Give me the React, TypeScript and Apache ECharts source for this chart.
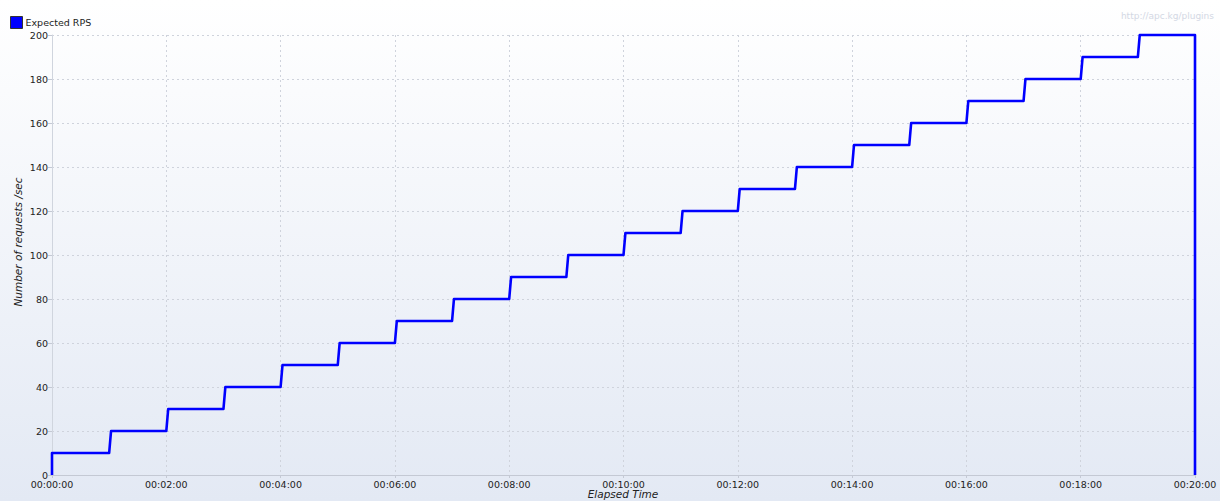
import React, { useEffect, useRef } from "react";
import * as echarts from "echarts";

// Step start times (seconds) and the expected RPS level reached at each step
const stepTimes = [0, 60, 120, 180, 240, 300, 360, 420, 480, 540, 600, 660, 720, 780, 840, 900, 960, 1020, 1080, 1140];
const stepLevels = [10, 20, 30, 40, 50, 60, 70, 80, 90, 100, 110, 120, 130, 140, 150, 160, 170, 180, 190, 200];
const endTime = 1200;
const rampSeconds = 2;
const xTickLabels = ["00:00:00", "00:02:00", "00:04:00", "00:06:00", "00:08:00", "00:10:00", "00:12:00", "00:14:00", "00:16:00", "00:18:00", "00:20:00"];
const seriesName = "Expected RPS";
const xAxisTitle = "Elapsed Time";
const yAxisTitle = "Number of requests /sec";

function buildPoints(): [number, number][] {
  const pts: [number, number][] = [[0, 0]];
  let prev = 0;
  stepTimes.forEach((t, i) => {
    const lvl = stepLevels[i];
    if (t === 0) {
      pts.push([0, lvl]);
    } else {
      pts.push([t, prev]);
      pts.push([t + rampSeconds, lvl]);
    }
    prev = lvl;
  });
  pts.push([endTime, prev]);
  pts.push([endTime, 0]);
  return pts;
}

export default function App() {
  const ref = useRef<HTMLDivElement>(null);
  useEffect(() => {
    if (!ref.current) return;
    const chart = echarts.init(ref.current, undefined, { renderer: "svg" });
    const font = "DejaVu Sans";
    chart.setOption({
      animation: false,
      backgroundColor: new echarts.graphic.LinearGradient(0, 0, 0, 1, [
        { offset: 0, color: "#ffffff" },
        { offset: 1, color: "#e3e9f4" },
      ]),
      textStyle: { fontFamily: font },
      legend: {
        left: 5,
        top: 11,
        itemWidth: 12,
        itemHeight: 12,
        itemGap: 4,
        icon: "rect",
        itemStyle: { color: "#0000ff", borderColor: "#333", borderWidth: 1 },
        textStyle: { fontSize: 9.5, color: "#222", fontFamily: font, padding: [0, 0, 0, -2] },
        data: [seriesName],
      },
      graphic: [
        {
          type: "text",
          right: 6,
          top: 11,
          style: { text: "http://apc.kg/plugins", fontSize: 9, fill: "#d3d8e4", fontFamily: font },
        },
        {
          type: "text",
          x: 18,
          y: 242,
          rotation: Math.PI / 2,
          style: {
            text: yAxisTitle,
            fontSize: 10.5,
            fontStyle: "italic",
            fill: "#222",
            fontFamily: font,
            align: "center",
            verticalAlign: "middle",
          },
        },
        {
          type: "text",
          x: 623,
          y: 494,
          style: {
            text: xAxisTitle,
            fontSize: 10.5,
            fontStyle: "italic",
            fill: "#222",
            fontFamily: font,
            align: "center",
            verticalAlign: "middle",
          },
        },
      ],
      grid: { left: 52, right: 25, top: 35, bottom: 26, containLabel: false, outerBoundsMode: "none" },
      xAxis: {
        type: "value",
        min: 0,
        max: endTime,
        interval: 120,
        axisLine: { show: true, lineStyle: { color: "#c4c9d4", width: 1 } },
        axisTick: { show: true, length: 3, lineStyle: { color: "#c4c9d4" } },
        axisLabel: {
          fontSize: 9.5,
          color: "#222",
          margin: 4,
          fontFamily: font,
          formatter: (v: number) => xTickLabels[Math.round(v / 120)] ?? "",
        },
        splitLine: { show: true, lineStyle: { color: "#cfd3dc", type: [2, 3], width: 1 } },
      },
      yAxis: {
        type: "value",
        min: 0,
        max: 200,
        interval: 20,
        axisLine: { show: true, lineStyle: { color: "#d0d5de", width: 1 } },
        axisTick: { show: true, length: 4, lineStyle: { color: "#c4c9d4" } },
        axisLabel: { fontSize: 9.5, color: "#222", margin: 4, fontFamily: font },
        splitLine: { show: true, lineStyle: { color: "#cfd3dc", type: [2, 3], width: 1 } },
      },
      series: [
        {
          name: seriesName,
          type: "line",
          data: buildPoints(),
          showSymbol: false,
          symbol: "none",
          lineStyle: { color: "#0000ff", width: 2.6, join: "round" },
          itemStyle: { color: "#0000ff" },
          clip: false,
        },
      ],
    });
    return () => chart.dispose();
  }, []);
  return <div ref={ref} style={{ width: 1220, height: 501, position: "absolute", left: 0, top: 0 }} />;
}
